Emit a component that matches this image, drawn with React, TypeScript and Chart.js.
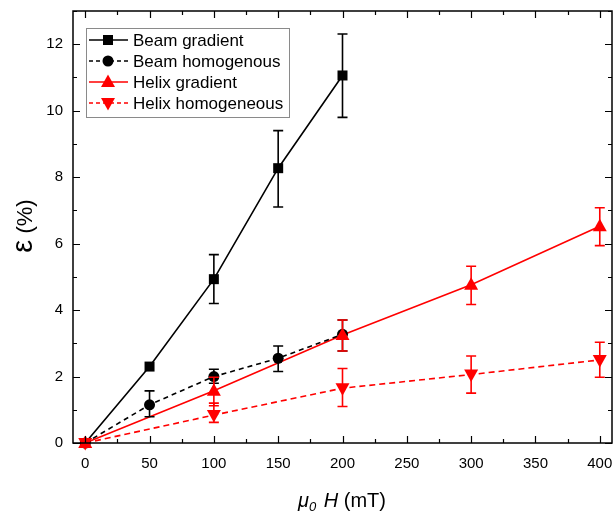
import React, { useEffect, useRef } from "react";
import { Chart, registerables } from "chart.js";

Chart.register(...registerables);

// Field values (mT) for each sample type
const beamFields = [0, 50, 100, 150, 200];
const helixFields = [0, 100, 200, 300, 400];

// Strain (%) with lower / upper error limits
const beamGradient = [0, 2.3, 4.93, 8.27, 11.06];
const beamGradientLow = [0, 2.3, 4.2, 7.1, 9.8];
const beamGradientHigh = [0, 2.3, 5.67, 9.4, 12.31];

const beamHomogenous = [0, 1.15, 2.0, 2.55, 3.27];
const beamHomogenousLow = [0, 0.79, 1.8, 2.15, 2.77];
const beamHomogenousHigh = [0, 1.57, 2.22, 2.92, 3.7];

const helixGradient = [0, 1.57, 3.25, 4.76, 6.52];
const helixGradientLow = [0, 1.12, 2.77, 4.17, 5.94];
const helixGradientHigh = [0, 1.98, 3.7, 5.32, 7.08];

const helixHomogeneous = [0, 0.84, 1.65, 2.06, 2.5];
const helixHomogeneousLow = [0, 0.62, 1.1, 1.5, 1.98];
const helixHomogeneousHigh = [0, 1.2, 2.24, 2.62, 3.03];

const seriesNames = ["Beam gradient", "Beam homogenous", "Helix gradient", "Helix homogeneous"];

const xTickValues = [0, 50, 100, 150, 200, 250, 300, 350, 400];
const yTickValues = [0, 2, 4, 6, 8, 10, 12];
const xMinorStep = 25;
const yMinorStep = 1;

const FONT = '"Liberation Sans", Arial, Helvetica, sans-serif';
const RED = "#ff0000";
const BLACK = "#000000";

type Marker = "rect" | "circle" | "triangle" | "triangleDown";

const toPoints = (xs: number[], ys: number[]) => xs.map((x, i) => ({ x, y: ys[i] }));

function drawMarker(ctx: CanvasRenderingContext2D, m: Marker, x: number, y: number, color: string) {
  ctx.save();
  ctx.fillStyle = color;
  ctx.setLineDash([]);
  ctx.beginPath();
  if (m === "rect") {
    ctx.rect(x - 5, y - 5, 10, 10);
  } else if (m === "circle") {
    ctx.arc(x, y, 5.5, 0, Math.PI * 2);
  } else if (m === "triangle") {
    ctx.moveTo(x, y - 7.5);
    ctx.lineTo(x + 7, y + 5);
    ctx.lineTo(x - 7, y + 5);
    ctx.closePath();
  } else {
    ctx.moveTo(x, y + 7.5);
    ctx.lineTo(x + 7, y - 5);
    ctx.lineTo(x - 7, y - 5);
    ctx.closePath();
  }
  ctx.fill();
  ctx.restore();
}

const seriesDefs = [
  { name: seriesNames[0], xs: beamFields, ys: beamGradient, lo: beamGradientLow, hi: beamGradientHigh, color: BLACK, dash: [] as number[], marker: "rect" as Marker },
  { name: seriesNames[1], xs: beamFields, ys: beamHomogenous, lo: beamHomogenousLow, hi: beamHomogenousHigh, color: BLACK, dash: [5, 4], marker: "circle" as Marker },
  { name: seriesNames[2], xs: helixFields, ys: helixGradient, lo: helixGradientLow, hi: helixGradientHigh, color: RED, dash: [] as number[], marker: "triangle" as Marker },
  { name: seriesNames[3], xs: helixFields, ys: helixHomogeneous, lo: helixHomogeneousLow, hi: helixHomogeneousHigh, color: RED, dash: [6, 4], marker: "triangleDown" as Marker },
];

// Error bars with flat caps, then the markers on top
const errorBarPlugin = {
  id: "errorBars",
  afterDatasetsDraw(chart: any) {
    const ctx: CanvasRenderingContext2D = chart.ctx;
    const xs = chart.scales.x;
    const ys = chart.scales.y;
    seriesDefs.forEach((s) => {
      ctx.save();
      ctx.strokeStyle = s.color;
      ctx.lineWidth = 1.6;
      s.xs.forEach((xv, i) => {
        if (s.hi[i] - s.lo[i] < 0.05) return;
        const px = xs.getPixelForValue(xv);
        const pl = ys.getPixelForValue(s.lo[i]);
        const ph = ys.getPixelForValue(s.hi[i]);
        ctx.beginPath();
        ctx.moveTo(px, pl);
        ctx.lineTo(px, ph);
        ctx.moveTo(px - 5, pl);
        ctx.lineTo(px + 5, pl);
        ctx.moveTo(px - 5, ph);
        ctx.lineTo(px + 5, ph);
        ctx.stroke();
      });
      ctx.restore();
      s.xs.forEach((xv, i) => {
        drawMarker(ctx, s.marker, xs.getPixelForValue(xv), ys.getPixelForValue(s.ys[i]), s.color);
      });
    });
  },
};

// Frame, inward ticks on all four sides, axis titles and legend box
const framePlugin = {
  id: "frame",
  afterDraw(chart: any) {
    const ctx: CanvasRenderingContext2D = chart.ctx;
    const { left, right, top, bottom } = chart.chartArea;
    const xs = chart.scales.x;
    const ys = chart.scales.y;
    ctx.save();
    ctx.strokeStyle = BLACK;
    ctx.lineWidth = 1.5;
    ctx.setLineDash([]);
    ctx.strokeRect(left, top, right - left, bottom - top);

    ctx.lineWidth = 1.2;
    ctx.beginPath();
    for (let v = xTickValues[0]; v <= xTickValues[xTickValues.length - 1]; v += xMinorStep) {
      const major = xTickValues.includes(v);
      const len = major ? 7 : 4;
      const px = Math.round(xs.getPixelForValue(v)) + 0.5;
      ctx.moveTo(px, bottom);
      ctx.lineTo(px, bottom - len);
      ctx.moveTo(px, top);
      ctx.lineTo(px, top + len);
    }
    for (let v = 0; v <= 13; v += yMinorStep) {
      const major = yTickValues.includes(v);
      const len = major ? 7 : 4;
      const py = Math.round(ys.getPixelForValue(v)) + 0.5;
      ctx.moveTo(left, py);
      ctx.lineTo(left + len, py);
      ctx.moveTo(right, py);
      ctx.lineTo(right - len, py);
    }
    ctx.stroke();

    // y title: large epsilon followed by the unit
    ctx.fillStyle = BLACK;
    ctx.save();
    ctx.translate(24, 226);
    ctx.rotate(-Math.PI / 2);
    ctx.textAlign = "left";
    ctx.textBaseline = "alphabetic";
    const epsFont = `29px ${FONT}`;
    const unitFont = `22px ${FONT}`;
    ctx.font = epsFont;
    const epsW = ctx.measureText("\u03b5").width;
    ctx.font = unitFont;
    const unitW = ctx.measureText(" (%)").width;
    const startX = -(epsW + unitW) / 2;
    ctx.font = epsFont;
    ctx.fillText("\u03b5", startX, 8);
    ctx.font = unitFont;
    ctx.fillText(" (%)", startX + epsW, 8);
    ctx.restore();

    // x title: italic mu with subscript 0, italic H, then unit
    const parts = [
      { t: "\u03bc", f: `italic 20px ${FONT}`, dy: 0, gap: 0 },
      { t: "0", f: `italic 13px ${FONT}`, dy: 4, gap: 0 },
      { t: " ", f: `20px ${FONT}`, dy: 0, gap: 2 },
      { t: "H", f: `italic 20px ${FONT}`, dy: 0, gap: 0 },
      { t: " (mT)", f: `20px ${FONT}`, dy: 0, gap: 0 },
    ];
    let total = 0;
    parts.forEach((p) => {
      ctx.font = p.f;
      total += ctx.measureText(p.t).width + p.gap;
    });
    let cx = 342 - total / 2;
    ctx.textAlign = "left";
    ctx.textBaseline = "alphabetic";
    parts.forEach((p) => {
      ctx.font = p.f;
      ctx.fillText(p.t, cx, 507 + p.dy);
      cx += ctx.measureText(p.t).width + p.gap;
    });

    // legend
    const bx = left + 13;
    const by = top + 17;
    const bw = 203;
    const bh = 89;
    ctx.fillStyle = "#ffffff";
    ctx.fillRect(bx, by, bw, bh);
    ctx.strokeStyle = "#8a8a8a";
    ctx.lineWidth = 1;
    ctx.strokeRect(bx + 0.5, by + 0.5, bw, bh);
    ctx.font = `17px ${FONT}`;
    ctx.textBaseline = "middle";
    seriesDefs.forEach((s, i) => {
      const ry = by + 12 + i * 21;
      ctx.strokeStyle = s.color;
      ctx.lineWidth = 1.6;
      ctx.setLineDash(s.dash.length ? [4, 3] : []);
      ctx.beginPath();
      ctx.moveTo(bx + 3, ry);
      ctx.lineTo(bx + 42, ry);
      ctx.stroke();
      ctx.setLineDash([]);
      drawMarker(ctx, s.marker, bx + 22, ry, s.color);
      ctx.fillStyle = BLACK;
      ctx.fillText(s.name, bx + 47, ry + 1);
    });
    ctx.restore();
  },
};

export default function App() {
  const canvasRef = useRef<HTMLCanvasElement | null>(null);

  useEffect(() => {
    if (!canvasRef.current) return;
    const chart = new Chart(canvasRef.current, {
      type: "scatter",
      data: {
        datasets: seriesDefs.map((s) => ({
          label: s.name,
          data: toPoints(s.xs, s.ys),
          showLine: true,
          borderColor: s.color,
          backgroundColor: s.color,
          borderWidth: 1.6,
          borderDash: s.dash,
          pointRadius: 0,
          pointHoverRadius: 0,
          tension: 0,
        })),
      },
      plugins: [errorBarPlugin, framePlugin],
      options: {
        responsive: false,
        animation: false,
        devicePixelRatio: 1,
        layout: { padding: { top: 11, right: 4, left: 0, bottom: 0 } },
        plugins: {
          legend: { display: false },
          tooltip: { enabled: false },
        },
        scales: {
          x: {
            type: "linear",
            min: -9.5,
            max: 409.5,
            afterBuildTicks: (scale: any) => {
              scale.ticks = xTickValues.map((v) => ({ value: v }));
            },
            afterFit: (scale: any) => {
              scale.height = 79;
              scale.paddingLeft = 0;
              scale.paddingRight = 0;
            },
            grid: { display: false, drawTicks: false },
            border: { display: false },
            ticks: {
              padding: 12,
              maxRotation: 0,
              autoSkip: false,
              color: BLACK,
              font: { family: FONT, size: 15 },
            },
          },
          y: {
            type: "linear",
            min: 0,
            max: 13,
            afterBuildTicks: (scale: any) => {
              scale.ticks = yTickValues.map((v) => ({ value: v }));
            },
            afterFit: (scale: any) => {
              scale.width = 73;
              scale.paddingTop = 0;
              scale.paddingBottom = 0;
            },
            grid: { display: false, drawTicks: false },
            border: { display: false },
            ticks: {
              padding: 10,
              autoSkip: false,
              color: BLACK,
              font: { family: FONT, size: 15 },
            },
          },
        },
      },
    } as any);
    return () => chart.destroy();
  }, []);

  return (
    <div style={{ position: "absolute", left: 0, top: 0, width: 616, height: 522, background: "#ffffff" }}>
      <canvas ref={canvasRef} width={616} height={522} />
    </div>
  );
}
